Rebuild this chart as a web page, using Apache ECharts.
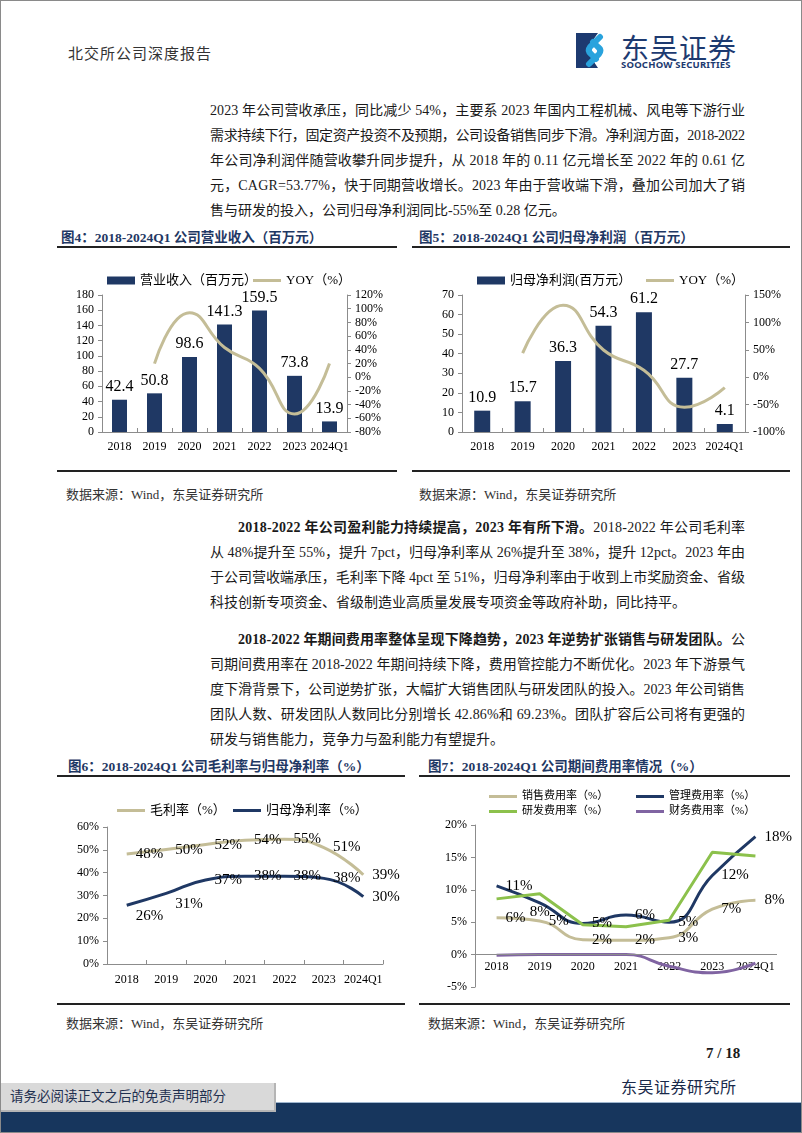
<!DOCTYPE html>
<html>
<head>
<meta charset="utf-8">
<script src="https://cdn.jsdelivr.net/npm/echarts@6/dist/echarts.min.js"></script>
<style>
    html, body { margin: 0; padding: 0; }
    body {
        width: 802px; height: 1133px; position: relative; overflow: hidden; background: #fff;
        font-family: "Liberation Serif", "Noto Sans CJK SC", serif; color: #1a1a1a;
    }
    .abs { position: absolute; }
    .frame { left: 0; top: 0; width: 802px; height: 1133px; box-sizing: border-box; border: 1px solid #8a8a8a; pointer-events: none; z-index: 5; }
    .line { position: absolute; left: 210px; height: 25px; line-height: 25px; font-size: 14px; white-space: nowrap; }
    .fig-title { font-size: 13.5px; font-weight: bold; color: #1f3864; white-space: nowrap; }
    .rule { height: 2px; background: #222; }
    .src { font-size: 13px; color: #333; white-space: nowrap; }
    .chart { position: absolute; }
</style>
</head>
<body>
<div class="abs frame"></div>

<!-- 页眉 -->
<div class="abs" style="left:68px;top:42px;font-size:15px;color:#333;letter-spacing:1px;">北交所公司深度报告</div>
<svg class="abs" style="left:576px;top:33px" width="36" height="35" viewBox="0 0 36 35">
    <polygon points="0,0 22,0 10,17 22,35 0,35" fill="#1d3a70"/>
    <path d="M24 4 L14 14 Q11 18 15 21 L20 26" stroke="#29a3dd" stroke-width="6" fill="none" stroke-linecap="round"/>
    <path d="M13 31 L23 21 Q26 17 22 14 L17 9" stroke="#29a3dd" stroke-width="6" fill="none" stroke-linecap="round"/>
</svg>
<div class="abs" style="left:621px;top:27px;font-size:28px;color:#1d3a70;font-family:'Noto Sans CJK SC';letter-spacing:1px;">东吴证券</div>
<div class="abs" style="left:621px;top:58px;font-size:9.5px;font-weight:bold;color:#1d3a70;font-family:'Noto Sans';letter-spacing:0.2px;">SOOCHOW SECURITIES</div>

<!-- 段落1 -->
<div class="line jl" style="top:98px"><span>2023 年公司营收承压，同比减少 54%，主要系 2023 年国内工程机械、风电等下游行业</span></div>
<div class="line jl" style="top:123px"><span>需求持续下行，固定资产投资不及预期，公司设备销售同步下滑。净利润方面，2018-2022</span></div>
<div class="line jl" style="top:148px"><span>年公司净利润伴随营收攀升同步提升，从 2018 年的 0.11 亿元增长至 2022 年的 0.61 亿</span></div>
<div class="line jl" style="top:173px"><span>元，CAGR=53.77%，快于同期营收增长。2023 年由于营收端下滑，叠加公司加大了销</span></div>
<div class="line" style="top:198px"><span>售与研发的投入，公司归母净利润同比-55%至 0.28 亿元。</span></div>

<!-- 图4 / 图5 标题 -->
<div class="abs fig-title" style="left:61px;top:226px">图4：2018-2024Q1 公司营业收入（百万元）</div>
<div class="abs fig-title" style="left:419px;top:226px">图5：2018-2024Q1 公司归母净利润（百万元）</div>
<div class="abs rule" style="left:57px;top:246px;width:340px"></div>
<div class="abs rule" style="left:412px;top:246px;width:378px"></div>

<div id="chartRevenue" class="chart" style="left:55px;top:255px;width:345px;height:210px"></div>
<div id="chartProfit" class="chart" style="left:405px;top:255px;width:395px;height:210px"></div>

<div class="abs rule" style="left:57px;top:470px;width:340px"></div>
<div class="abs rule" style="left:412px;top:470px;width:378px"></div>
<div class="abs src" style="left:66px;top:484px">数据来源：Wind，东吴证券研究所</div>
<div class="abs src" style="left:419px;top:484px">数据来源：Wind，东吴证券研究所</div>

<!-- 段落2 -->
<div class="line jl" data-indent="1" style="top:515px;left:238px"><span><b>2018-2022 年公司盈利能力持续提高，2023 年有所下滑。</b>2018-2022 年公司毛利率</span></div>
<div class="line jl" style="top:540px"><span>从 48%提升至 55%，提升 7pct，归母净利率从 26%提升至 38%，提升 12pct。2023 年由</span></div>
<div class="line jl" style="top:565px"><span>于公司营收端承压，毛利率下降 4pct 至 51%，归母净利率由于收到上市奖励资金、省级</span></div>
<div class="line" style="top:590px"><span>科技创新专项资金、省级制造业高质量发展专项资金等政府补助，同比持平。</span></div>

<!-- 段落3 -->
<div class="line jl" data-indent="1" style="top:627px;left:238px"><span><b>2018-2022 年期间费用率整体呈现下降趋势，2023 年逆势扩张销售与研发团队。</b>公</span></div>
<div class="line jl" style="top:652px"><span>司期间费用率在 2018-2022 年期间持续下降，费用管控能力不断优化。2023 年下游景气</span></div>
<div class="line jl" style="top:677px"><span>度下滑背景下，公司逆势扩张，大幅扩大销售团队与研发团队的投入。2023 年公司销售</span></div>
<div class="line jl" style="top:702px"><span>团队人数、研发团队人数同比分别增长 42.86%和 69.23%。团队扩容后公司将有更强的</span></div>
<div class="line" style="top:727px"><span>研发与销售能力，竞争力与盈利能力有望提升。</span></div>

<!-- 图6 / 图7 标题 -->
<div class="abs fig-title" style="left:68px;top:755px">图6：2018-2024Q1 公司毛利率与归母净利率（%）</div>
<div class="abs fig-title" style="left:428px;top:755px">图7：2018-2024Q1 公司期间费用率情况（%）</div>
<div class="abs rule" style="left:57px;top:775px;width:348px"></div>
<div class="abs rule" style="left:419px;top:775px;width:371px"></div>

<div id="chartMargin" class="chart" style="left:55px;top:785px;width:345px;height:212px"></div>
<div id="chartExpense" class="chart" style="left:410px;top:780px;width:390px;height:217px"></div>

<div class="abs rule" style="left:57px;top:1003px;width:348px"></div>
<div class="abs rule" style="left:419px;top:1003px;width:371px"></div>
<div class="abs src" style="left:66px;top:1013px">数据来源：Wind，东吴证券研究所</div>
<div class="abs src" style="left:428px;top:1013px">数据来源：Wind，东吴证券研究所</div>

<!-- 页脚 -->
<div class="abs" style="left:706px;top:1045px;font-size:15px;font-weight:bold;">7 / 18</div>
<div class="abs" style="left:621px;top:1074px;font-size:16px;color:#1a2a4a;letter-spacing:0.5px;">东吴证券研究所</div>
<div class="abs" style="left:0;top:1102px;width:802px;height:31px;background:#17365d;border-top:1px solid #9fb6cf;"></div>
<div class="abs" style="left:0;top:1083px;width:274px;height:27px;background:#d9d9d9;border-right:2px solid #b5b5b5;border-bottom:2px solid #b5b5b5;"></div>
<div class="abs" style="left:10px;top:1085px;font-size:13.5px;color:#1f3050;white-space:nowrap;">请务必阅读正文之后的免责声明部分</div>

<script>
    // 数据
    const years = ['2018', '2019', '2020', '2021', '2022', '2023', '2024Q1'];
    const revenue = [42.4, 50.8, 98.6, 141.3, 159.5, 73.8, 13.9];          // 营业收入（百万元）
    const revenueYoy = [null, 19.8, 94.1, 43.3, 12.9, -53.7, 20.0];        // YOY（%）
    const netProfit = [10.9, 15.7, 36.3, 54.3, 61.2, 27.7, 4.1];           // 归母净利润（百万元）
    const netProfitYoy = [null, 44.0, 131.2, 49.6, 12.7, -54.7, -19.0];    // YOY（%）
    const grossMargin = [48.2, 50.1, 52.3, 54.2, 54.6, 51.0, 39.1];        // 毛利率（%）
    const netMargin = [25.7, 30.9, 36.8, 38.4, 38.4, 37.5, 29.5];          // 归母净利率（%）
    const salesRate = [5.7, 5.2, 2.3, 2.2, 2.6, 7.0, 8.4];                 // 销售费用率（%）
    const adminRate = [10.6, 8.0, 4.8, 6.1, 5.0, 12.2, 18.2];              // 管理费用率（%）
    const rdRate = [8.6, 9.4, 4.6, 4.3, 5.3, 15.8, 15.2];                  // 研发费用率（%）
    const financeRate = [-0.1, 0.0, 0.0, 0.0, -1.8, -2.8, -1.3];           // 财务费用率（%）

    const FONT = '"Liberation Serif", "Noto Sans CJK SC", serif';
    const NAVY = '#1f3864';
    const KHAKI = '#c4bd97';
    const GREEN = '#8cc14c';
    const PURPLE = '#8064a2';
    const AXIS = '#8c8c8c';

    // 段落两端对齐：按行调整字距
    document.querySelectorAll('.jl').forEach(function (el) {
        const span = el.querySelector('span');
        const target = el.dataset.indent ? 507 : 535;
        const w = span.getBoundingClientRect().width;
        const n = span.textContent.length;
        span.style.letterSpacing = ((target - w) / (n - 1)) + 'px';
    });

    function catAxis(extra) {
        return Object.assign({
            type: 'category',
            data: years,
            axisLine: {lineStyle: {color: AXIS}},
            axisTick: {show: true, inside: true, length: 4, lineStyle: {color: AXIS}},
            axisLabel: {color: '#000', fontSize: 12, interval: 0, margin: 9}
        }, extra || {});
    }

    function valAxis(min, max, interval, fmt, extra) {
        return Object.assign({
            type: 'value',
            min: min, max: max, interval: interval,
            axisLine: {show: true, lineStyle: {color: AXIS}},
            axisTick: {show: true, length: 4, lineStyle: {color: AXIS}},
            splitLine: {show: false},
            axisLabel: {color: '#000', fontSize: 12, formatter: fmt}
        }, extra || {});
    }

    // 单项图例：柱用矩形，线用细矩形
    function legendItem(name, left, top, isBar, fontSize, spacing) {
        return {
            left: left, top: top, itemWidth: 28, itemHeight: isBar ? 8 : 3,
            icon: 'rect', itemGap: 0,
            textStyle: {fontSize: fontSize || 13, color: '#000', letterSpacing: spacing || 0},
            data: [name]
        };
    }

    const lineLabel = {
        show: true, position: 'right', distance: 9, fontSize: 15, color: '#000',
        formatter: function (p) { return Math.round(p.value) + '%'; }
    };

    // 图4 营业收入
    const chartRevenue = echarts.init(document.getElementById('chartRevenue'));
    chartRevenue.setOption({
        animation: false,
        textStyle: {fontFamily: FONT, color: '#000'},
        legend: [
            legendItem('营业收入（百万元）', 47, 14, true),
            legendItem('YOY（%）', 193, 14, false)
        ],
        grid: {left: 47, right: 53, top: 40, bottom: 33, outerBoundsMode: 'none'},
        xAxis: catAxis(),
        yAxis: [
            valAxis(0, 180, 20, '{value}'),
            valAxis(-80, 120, 20, '{value}%', {position: 'right'})
        ],
        series: [
            {
                name: '营业收入（百万元）', type: 'bar', barWidth: 15,
                itemStyle: {color: NAVY},
                label: {show: true, position: 'top', distance: 5, fontSize: 16, color: '#000'},
                data: revenue
            },
            {
                name: 'YOY（%）', type: 'line', yAxisIndex: 1, smooth: true, symbol: 'none',
                lineStyle: {color: KHAKI, width: 3}, itemStyle: {color: KHAKI},
                data: revenueYoy
            }
        ]
    });

    // 图5 归母净利润
    const chartProfit = echarts.init(document.getElementById('chartProfit'));
    chartProfit.setOption({
        animation: false,
        textStyle: {fontFamily: FONT, color: '#000'},
        legend: [
            legendItem('归母净利润(百万元）', 67, 14, true),
            legendItem('YOY（%）', 236, 14, false)
        ],
        grid: {left: 57, right: 55, top: 40, bottom: 33, outerBoundsMode: 'none'},
        xAxis: catAxis(),
        yAxis: [
            valAxis(0, 70, 10, '{value}'),
            valAxis(-100, 150, 50, '{value}%', {position: 'right'})
        ],
        series: [
            {
                name: '归母净利润(百万元）', type: 'bar', barWidth: 16,
                itemStyle: {color: NAVY},
                label: {show: true, position: 'top', distance: 5, fontSize: 16, color: '#000'},
                data: netProfit
            },
            {
                name: 'YOY（%）', type: 'line', yAxisIndex: 1, smooth: true, symbol: 'none',
                lineStyle: {color: KHAKI, width: 3}, itemStyle: {color: KHAKI},
                data: netProfitYoy
            }
        ]
    });

    // 图6 毛利率与归母净利率
    const chartMargin = echarts.init(document.getElementById('chartMargin'));
    chartMargin.setOption({
        animation: false,
        textStyle: {fontFamily: FONT, color: '#000'},
        legend: [
            legendItem('毛利率（%）', 57, 14, false),
            legendItem('归母净利率（%）', 173, 14, false)
        ],
        grid: {left: 52, right: 17, top: 42, bottom: 33, outerBoundsMode: 'none'},
        xAxis: catAxis({axisLabel: {color: '#000', fontSize: 12, interval: 0, margin: 10}}),
        yAxis: valAxis(0, 60, 10, '{value}%'),
        series: [
            {
                name: '毛利率（%）', type: 'line', smooth: true,
                symbol: 'circle', symbolSize: 0.1, showSymbol: true,
                lineStyle: {color: KHAKI, width: 3}, itemStyle: {color: KHAKI},
                label: lineLabel,
                data: grossMargin
            },
            {
                name: '归母净利率（%）', type: 'line', smooth: true,
                symbol: 'circle', symbolSize: 0.1, showSymbol: true,
                lineStyle: {color: NAVY, width: 3}, itemStyle: {color: NAVY},
                label: lineLabel,
                data: netMargin.map(function (v, i) {
                    return i < 2 ? {value: v, label: {offset: [0, 11]}} : v;
                })
            }
        ]
    });

    // 图7 期间费用率：横轴标签贴在 0% 线下方，0% 线用 markLine 画
    const chartExpense = echarts.init(document.getElementById('chartExpense'));
    chartExpense.setOption({
        animation: false,
        textStyle: {fontFamily: FONT, color: '#000'},
        legend: [
            legendItem('销售费用率（%）', 74, 6, false, 11, 1.5),
            legendItem('管理费用率（%）', 221, 6, false, 11, 1.5),
            legendItem('研发费用率（%）', 74, 21, false, 11, 1.5),
            legendItem('财务费用率（%）', 221, 21, false, 11, 1.5)
        ],
        grid: {left: 65, right: 23, top: 45, bottom: 10, outerBoundsMode: 'none'},
        xAxis: catAxis({
            axisLine: {show: false, onZero: false},
            axisTick: {show: false},
            axisLabel: {color: '#000', fontSize: 12, interval: 0, margin: -26}
        }),
        yAxis: valAxis(-5, 20, 5, '{value}%'),
        series: [
            {
                name: '销售费用率（%）', type: 'line', smooth: true,
                symbol: 'circle', symbolSize: 0.1, showSymbol: true,
                lineStyle: {color: KHAKI, width: 3}, itemStyle: {color: KHAKI},
                label: lineLabel,
                data: salesRate
            },
            {
                name: '管理费用率（%）', type: 'line', smooth: true,
                symbol: 'circle', symbolSize: 0.1, showSymbol: true,
                lineStyle: {color: NAVY, width: 3}, itemStyle: {color: NAVY},
                label: lineLabel,
                data: adminRate.map(function (v, i) {
                    return i === 1 ? {value: v, label: {position: 'bottom', distance: 2}} : v;
                })
            },
            {
                name: '研发费用率（%）', type: 'line', symbol: 'none',
                lineStyle: {color: GREEN, width: 3}, itemStyle: {color: GREEN},
                data: rdRate
            },
            {
                name: '财务费用率（%）', type: 'line', smooth: true, symbol: 'none',
                lineStyle: {color: PURPLE, width: 3}, itemStyle: {color: PURPLE},
                markLine: {
                    silent: true, symbol: 'none', label: {show: false},
                    lineStyle: {color: AXIS, width: 1, type: 'solid'},
                    data: [{yAxis: 0}]
                },
                z: 1,
                data: financeRate
            }
        ]
    });
</script>
</body>
</html>
